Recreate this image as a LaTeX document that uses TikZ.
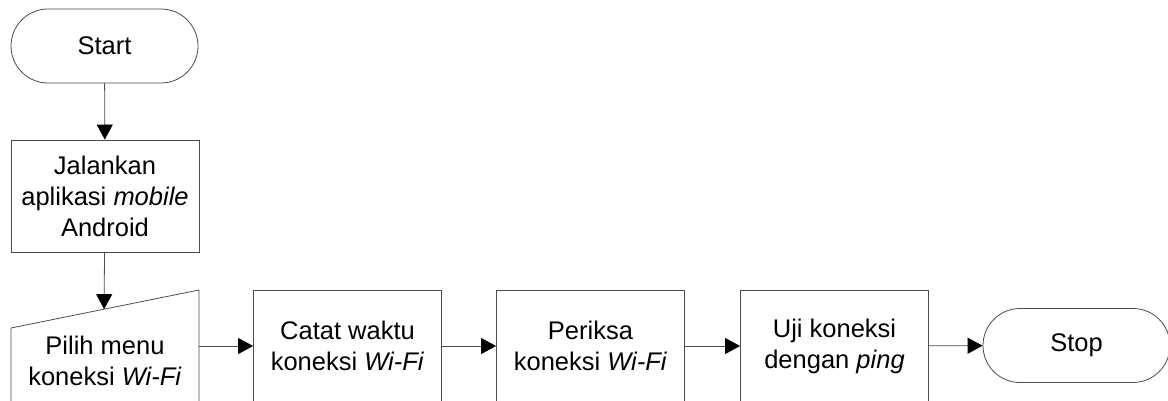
\documentclass[tikz,border=0pt]{standalone}
\usepackage{fontspec}
\setmainfont{Liberation Sans}
\usetikzlibrary{arrows.meta,calc}
\begin{document}
\begin{tikzpicture}[x=1pt,y=-1pt,
  line/.style={draw=black!70, line width=0.8pt},
  arr/.style={line, -{Triangle[length=15pt,width=16pt,color=black]}},
  lbl/.style={align=center, font=\fontsize{25.5}{31}\selectfont},
  proc/.style={line, lbl, rectangle, minimum width=188pt, minimum height=112pt, inner sep=0pt},
  term/.style={line, lbl, rectangle, rounded corners=37pt, minimum width=187pt, minimum height=74pt, inner sep=0pt}]
\useasboundingbox (0,0) rectangle (1168,401);
\clip (0,0) rectangle (1168,401);
\node[term] (start) at (104.5,46) {Start};
\node[proc] (run) at (105,196) {Jalankan\\aplikasi \textit{mobile}\\Android};
\coordinate (mtl) at (11,328);
\coordinate (mtr) at (199,290);
\coordinate (mbr) at (199,430);
\coordinate (mbl) at (11,430);
\draw[line] (mbl) -- (mtl) -- (mtr) -- (mbr);
\coordinate (min) at ($(mtl)!0.495!(mtr)$);
\node[lbl] (pick) at (105,361) {Pilih menu\\koneksi \textit{Wi-Fi}};
\coordinate (pickout) at (199,346);
\node[proc] (log) at (347.5,346) {Catat waktu\\koneksi \textit{Wi-Fi}};
\node[proc] (check) at (590.5,346) {Periksa\\koneksi \textit{Wi-Fi}};
\node[proc] (test) at (834.5,346) {Uji koneksi\\dengan \textit{ping}};
\node[term] (stop) at (1076.5,345.5) {Stop};
\draw[arr] (start) -- (run);
\draw[arr] (run) -- (min);
\draw[arr] (pickout) -- (log);
\draw[arr] (log) -- (check);
\draw[arr] (check) -- (test);
\draw[arr] (test) -- (stop);
\end{tikzpicture}
\end{document}
